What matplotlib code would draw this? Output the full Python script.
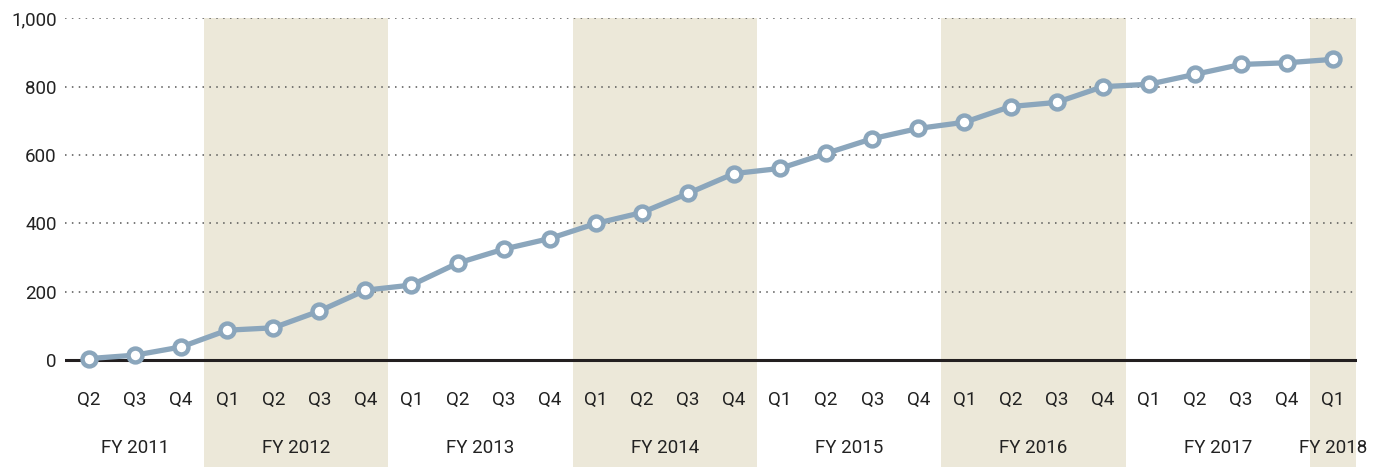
import matplotlib.pyplot as plt
from matplotlib import font_manager

names = {f.name for f in font_manager.fontManager.ttflist}
fam = "Liberation Sans Narrow" if "Liberation Sans Narrow" in names else "Roboto"
plt.rcParams['font.family'] = [fam, 'DejaVu Sans']

quarters = ["Q2", "Q3", "Q4",
            "Q1", "Q2", "Q3", "Q4",
            "Q1", "Q2", "Q3", "Q4",
            "Q1", "Q2", "Q3", "Q4",
            "Q1", "Q2", "Q3", "Q4",
            "Q1", "Q2", "Q3", "Q4",
            "Q1", "Q2", "Q3", "Q4",
            "Q1"]
values = [5, 15, 39, 88, 95, 144, 205, 220, 284, 325, 356, 400, 432, 488,
          546, 561, 605, 648, 678, 696, 742, 754, 800, 807, 836, 865, 870, 880]
years = ["FY 2011", "FY 2012", "FY 2013", "FY 2014", "FY 2015",
         "FY 2016", "FY 2017", "FY 2018"]
# first and last quarter index of each fiscal year
year_start = [0, 3, 7, 11, 15, 19, 23, 27]
year_end = [2, 6, 10, 14, 18, 22, 26, 27]
shaded = ["FY 2012", "FY 2014", "FY 2016", "FY 2018"]

fig = plt.figure(figsize=(13.84, 4.67), dpi=100)
ax = fig.add_axes([65/1384, 0, (1357-65)/1384, 1 - 18.3/467])

x = list(range(len(values)))
xmin, xmax = -0.52, len(values) - 0.48
ymin, ymax = -312, 1000
ax.set_xlim(xmin, xmax)
ax.set_ylim(ymin, ymax)

for name, s, e in zip(years, year_start, year_end):
    if name in shaded:
        ax.axvspan(s - 0.5, min(e + 0.5, xmax), color="#ece8d9", lw=0, zorder=0)

for g in [200, 400, 600, 800, 1000]:
    ax.axhline(g, color="#555555", lw=1.1, ls=(0, (1, 3.5)), zorder=1)
ax.axhline(0, color="#231f20", lw=2.2, zorder=2)

ax.plot(x, values, color="#8ba6bc", lw=3.8, marker="o", ms=10,
        mfc="white", mec="#8ba6bc", mew=3.2, zorder=3, clip_on=False)

for i, q in enumerate(quarters):
    ax.text(i, -117, q, ha="center", va="center", fontsize=13.5, color="#222222")
for name, s, e in zip(years, year_start, year_end):
    ax.text((s + e) / 2, -255, name, ha="center", va="center",
            fontsize=13.5, color="#222222")

ax.set_yticks([0, 200, 400, 600, 800, 1000])
ax.set_yticklabels(["0", "200", "400", "600", "800", "1,000"],
                   fontsize=13.5, color="#222222")
ax.tick_params(axis="y", length=0, pad=6)
ax.set_xticks([])
for sp in ax.spines.values():
    sp.set_visible(False)

fig.savefig("out.png", dpi=100)
